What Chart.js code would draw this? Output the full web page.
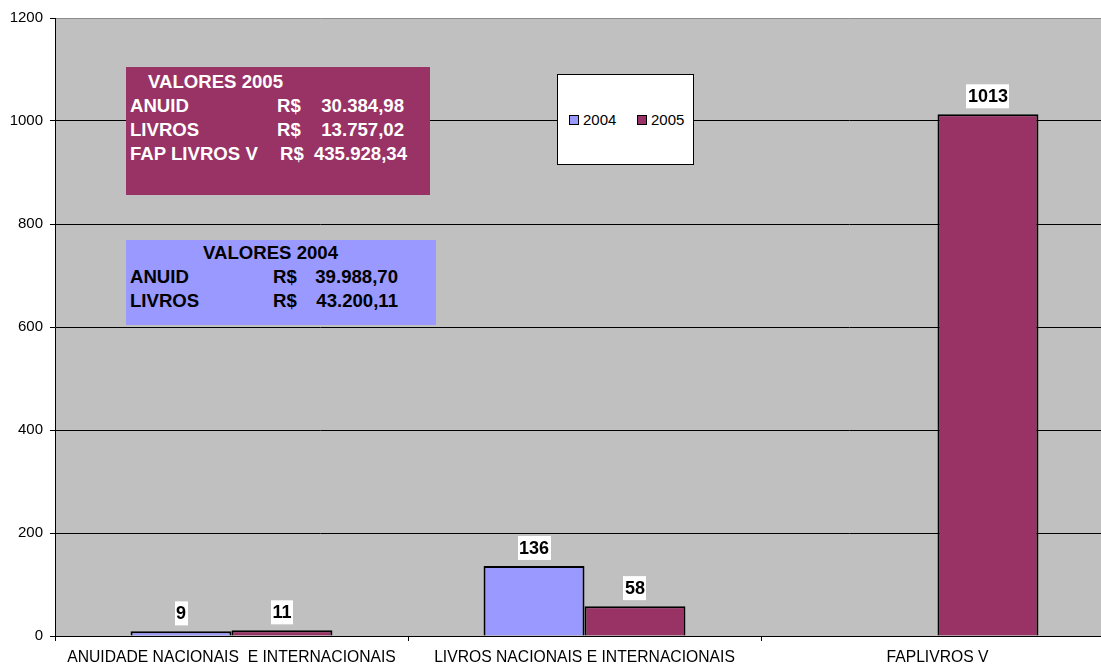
<!DOCTYPE html>
<html>
<head>
<meta charset="utf-8">
<script src="https://cdn.jsdelivr.net/npm/chart.js@4"></script>
<style>
  body { margin: 0; overflow: hidden; background: #fff; font-family: 'Liberation Sans', Arial, sans-serif; }
  #wrap { position: relative; width: 1101px; height: 665px; overflow: hidden; }
  #mychart { position: absolute; left: 0; top: 0; }
  .box { position: absolute; font-weight: bold; font-size: 18.6px; line-height: 24px; }
  .box span { position: absolute; white-space: nowrap; }
  #legend { position: absolute; left: 557px; top: 74px; width: 135px; height: 89px; background: #fff; border: 1px solid #000; font-size: 15px; }
  #legend .sw { position: absolute; width: 8px; height: 8px; border: 1px solid #000; top: 40px; }
  #legend .tx { position: absolute; top: 36px; line-height: 18px; }
</style>
</head>
<body>
<div id="wrap">
  <canvas id="mychart" width="1120" height="665"></canvas>
  <div id="box2005" class="box" style="left:126px;top:67px;width:304px;height:128px;background:#993366;color:#fff;"></div>
  <div id="box2004" class="box" style="left:126px;top:240px;width:310px;height:85px;background:#9999FF;color:#000;"></div>
  <div id="legend"></div>
</div>
<script>
var categories = ['ANUIDADE NACIONAIS  E INTERNACIONAIS', 'LIVROS NACIONAIS E INTERNACIONAIS', 'FAPLIVROS V'];
var values2004 = [9, 136, null];
var values2005 = [11, 58, 1013];
var seriesNames = ['2004', '2005'];
var yMin = 0, yMax = 1200, yStep = 200;

var valores2005Title = 'VALORES 2005';
var valores2005Labels = ['ANUID', 'LIVROS', 'FAP LIVROS V'];
var valores2005Values = ['30.384,98', '13.757,02', '435.928,34'];
var valores2004Title = 'VALORES 2004';
var valores2004Labels = ['ANUID', 'LIVROS'];
var valores2004Values = ['39.988,70', '43.200,11'];

// text boxes
function fillBox(id, title, labels, values, o) {
    var el = document.getElementById(id);
    var html = '<span style="left:' + o.titleX + 'px;top:' + o.top + 'px">' + title + '</span>';
    for (var i = 0; i < labels.length; i++) {
        var t = o.top + 24 * (i + 1);
        var rs = o.rsX + (labels[i].length > 8 ? 3 : 0);
        html += '<span style="left:4px;top:' + t + 'px">' + labels[i] + '</span>';
        html += '<span style="left:' + rs + 'px;top:' + t + 'px">R$</span>';
        html += '<span style="right:' + (o.valRight - (labels[i].length > 8 ? 3 : 0)) + 'px;top:' + t + 'px">' + values[i] + '</span>';
    }
    el.innerHTML = html;
}
fillBox('box2005', valores2005Title, valores2005Labels, valores2005Values, {titleX: 22, top: 3, rsX: 151, valRight: 26});
fillBox('box2004', valores2004Title, valores2004Labels, valores2004Values, {titleX: 77, top: 1, rsX: 147, valRight: 38});

var plotBg = {
    id: 'plotBg',
    beforeDraw: function(chart) {
        var a = chart.chartArea, ctx = chart.ctx;
        ctx.save();
        ctx.fillStyle = '#C0C0C0';
        ctx.fillRect(a.left, a.top, a.right - a.left, a.bottom - a.top);
        ctx.restore();
    }
};

var barLabels = {
    id: 'barLabels',
    afterDatasetsDraw: function(chart) {
        var ctx = chart.ctx;
        ctx.save();
        ctx.font = "bold 18px 'Liberation Sans', Arial, sans-serif";
        ctx.textAlign = 'center';
        ctx.textBaseline = 'middle';
        chart.data.datasets.forEach(function(ds, di) {
            var meta = chart.getDatasetMeta(di);
            meta.data.forEach(function(bar, i) {
                var v = ds.data[i];
                if (v === null || v === undefined) return;
                var txt = String(v);
                var w = ctx.measureText(txt).width + 3;
                var h = 24;
                var bottom = bar.y - 6;
                ctx.fillStyle = '#fff';
                ctx.fillRect(Math.round(bar.x - w / 2), bottom - h, Math.round(w), h);
                ctx.fillStyle = '#000';
                ctx.fillText(txt, bar.x, bottom - h / 2 + 1);
            });
        });
        ctx.restore();
    }
};

Chart.defaults.font.family = "'Liberation Sans', Arial, sans-serif";
Chart.defaults.color = '#000';

var ctx = document.getElementById('mychart').getContext('2d');
var chart = new Chart(ctx, {
    type: 'bar',
    data: {
        labels: categories,
        datasets: [{
            label: seriesNames[0],
            data: values2004,
            backgroundColor: '#9999FF',
            borderColor: '#000',
            borderWidth: 2,
            borderSkipped: 'bottom'
        }, {
            label: seriesNames[1],
            data: values2005,
            backgroundColor: '#993366',
            borderColor: '#000',
            borderWidth: 2,
            borderSkipped: 'bottom'
        }]
    },
    options: {
        responsive: false,
        animation: false,
        devicePixelRatio: 1,
        layout: { padding: { top: 18, right: 6, left: 0, bottom: 0 } },
        datasets: { bar: { categoryPercentage: 0.572, barPercentage: 1.0 } },
        plugins: {
            legend: { display: false },
            tooltip: { enabled: false }
        },
        scales: {
            x: {
                offset: true,
                grid: { offset: true, drawOnChartArea: false, tickLength: 5, color: '#000' },
                border: { color: '#000', z: 1 },
                ticks: { font: { size: 15.7 }, padding: 7, maxRotation: 0, autoSkip: false },
                afterFit: function(s) { s.height = 29; }
            },
            y: {
                min: yMin,
                max: yMax,
                ticks: {
                    stepSize: yStep,
                    font: { size: 15 },
                    padding: 7,
                    callback: function(v) { return String(v); }
                },
                grid: {
                    tickLength: 5,
                    tickColor: '#000',
                    color: function(c) { return c.tick && c.tick.value === yMax ? '#8c8c8c' : '#000'; }
                },
                border: { color: '#000' },
                afterFit: function(s) { s.width = 55; }
            }
        }
    },
    plugins: [plotBg, barLabels]
});

// legend built from datasets
var leg = document.getElementById('legend');
var lx = [11, 79];
chart.data.datasets.forEach(function(ds, i) {
    leg.innerHTML += '<div class="sw" style="left:' + lx[i] + 'px;background:' + ds.backgroundColor + '"></div>' +
        '<div class="tx" style="left:' + (lx[i] + 14) + 'px">' + ds.label + '</div>';
});
</script>
</body>
</html>
